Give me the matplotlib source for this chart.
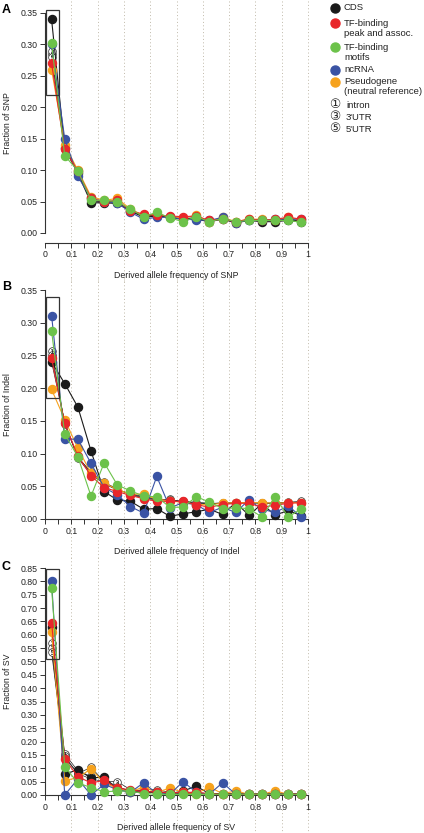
import numpy as np
import matplotlib
matplotlib.use("Agg")
import matplotlib.pyplot as plt
from matplotlib.lines import Line2D
from matplotlib.patches import Rectangle
from matplotlib.transforms import blended_transform_factory

plt.rcParams['font.family'] = ['Liberation Sans', 'DejaVu Sans']

FREQ = [0.025, 0.075, 0.125, 0.175, 0.225, 0.275, 0.325, 0.375, 0.425, 0.475,
        0.525, 0.575, 0.625, 0.675, 0.725, 0.775, 0.825, 0.875, 0.925, 0.975]

CATEGORIES = ["CDS", "TF-binding\npeak and assoc.", "TF-binding\nmotifs", "ncRNA",
              "Pseudogene\n(neutral reference)"]
COLORS = ["#1a1a1a", "#e8262a", "#6cc24a", "#3a53a4", "#f6a21d"]
CIRCLED = ["intron", "3'UTR", "5'UTR"]
CIRCLED_GLYPHS = ["\u2460", "\u2462", "\u2464"]
CIRCLED_DIGITS = ["1", "3", "5"]

# panel A: SNP
snp_cds = [0.340, 0.135, 0.095, 0.048, 0.048, 0.047, 0.035, 0.025, 0.027, 0.025,
           0.022, 0.022, 0.018, 0.022, 0.016, 0.020, 0.018, 0.018, 0.020, 0.018]
snp_peak = [0.270, 0.133, 0.098, 0.055, 0.050, 0.052, 0.035, 0.030, 0.028, 0.027,
            0.026, 0.027, 0.020, 0.022, 0.018, 0.022, 0.020, 0.022, 0.025, 0.022]
snp_motif = [0.302, 0.123, 0.099, 0.052, 0.052, 0.050, 0.038, 0.026, 0.033, 0.024,
             0.018, 0.026, 0.018, 0.023, 0.018, 0.020, 0.020, 0.020, 0.020, 0.017]
snp_ncrna = [0.300, 0.150, 0.090, 0.055, 0.050, 0.048, 0.033, 0.022, 0.025, 0.025,
             0.022, 0.021, 0.020, 0.025, 0.016, 0.021, 0.020, 0.022, 0.022, 0.022]
snp_pseudo = [0.260, 0.140, 0.100, 0.058, 0.052, 0.055, 0.038, 0.028, 0.030, 0.026,
              0.024, 0.028, 0.018, 0.025, 0.018, 0.022, 0.022, 0.020, 0.025, 0.020]
snp_intron = [0.285, 0.135, 0.096, 0.050, 0.049, 0.049, 0.036, 0.027, 0.028, 0.025,
              0.023, 0.024, 0.019, 0.023, 0.017, 0.021, 0.020, 0.020, 0.022, 0.019]
snp_utr3 = [0.290, 0.136, 0.097, 0.051, 0.050, 0.050, 0.036, 0.027, 0.028, 0.025,
            0.023, 0.024, 0.019, 0.023, 0.017, 0.021, 0.020, 0.020, 0.022, 0.019]
snp_utr5 = [0.280, 0.134, 0.096, 0.052, 0.050, 0.050, 0.036, 0.027, 0.028, 0.025,
            0.023, 0.024, 0.019, 0.023, 0.017, 0.021, 0.020, 0.020, 0.022, 0.019]

# panel B: Indel
indel_cds = [0.240, 0.207, 0.171, 0.104, 0.042, 0.029, 0.027, 0.015, 0.016, 0.004,
             0.008, 0.011, 0.015, 0.007, 0.025, 0.006, 0.023, 0.006, 0.013, 0.005]
indel_peak = [0.246, 0.146, 0.096, 0.066, 0.048, 0.042, 0.036, 0.031, 0.027, 0.027,
              0.027, 0.022, 0.018, 0.022, 0.024, 0.024, 0.018, 0.021, 0.024, 0.025]
indel_motif = [0.287, 0.130, 0.095, 0.035, 0.086, 0.052, 0.043, 0.035, 0.034, 0.018,
               0.018, 0.034, 0.026, 0.016, 0.017, 0.016, 0.003, 0.034, 0.003, 0.016]
indel_ncrna = [0.311, 0.122, 0.122, 0.085, 0.048, 0.037, 0.019, 0.009, 0.065, 0.017,
               0.025, 0.022, 0.010, 0.018, 0.010, 0.029, 0.015, 0.010, 0.020, 0.003]
indel_pseudo = [0.198, 0.152, 0.108, 0.070, 0.055, 0.045, 0.038, 0.038, 0.030, 0.028,
                0.025, 0.022, 0.022, 0.024, 0.025, 0.025, 0.025, 0.024, 0.025, 0.025]
indel_intron = [0.257, 0.145, 0.095, 0.070, 0.055, 0.045, 0.038, 0.033, 0.030, 0.028,
                0.027, 0.025, 0.024, 0.024, 0.025, 0.025, 0.024, 0.024, 0.025, 0.025]
indel_utr3 = [0.240, 0.148, 0.094, 0.072, 0.056, 0.046, 0.037, 0.032, 0.029, 0.030,
              0.026, 0.024, 0.023, 0.025, 0.024, 0.026, 0.025, 0.023, 0.026, 0.026]
indel_utr5 = [0.250, 0.146, 0.093, 0.068, 0.054, 0.044, 0.039, 0.034, 0.031, 0.029,
              0.027, 0.025, 0.024, 0.024, 0.025, 0.025, 0.024, 0.025, 0.025, 0.027]

# panel C: SV
sv_cds = [0.630, 0.079, 0.094, 0.064, 0.067, 0.020, 0.012, 0.010, 0.012, 0.005,
          0.015, 0.033, 0.005, 0.005, 0.003, 0.005, 0.005, 0.003, 0.005, 0.003]
sv_peak = [0.645, 0.135, 0.069, 0.045, 0.055, 0.025, 0.020, 0.012, 0.012, 0.008,
           0.010, 0.010, 0.005, 0.003, 0.003, 0.003, 0.003, 0.003, 0.003, 0.003]
sv_motif = [0.775, 0.106, 0.045, 0.028, 0.012, 0.015, 0.015, 0.005, 0.003, 0.002,
            0.002, 0.002, 0.003, 0.003, 0.003, 0.003, 0.003, 0.003, 0.003, 0.002]
sv_ncrna = [0.800, 0.000, 0.060, 0.000, 0.040, 0.020, 0.010, 0.046, 0.005, 0.003,
            0.050, 0.010, 0.003, 0.046, 0.003, 0.003, 0.003, 0.003, 0.003, 0.003]
sv_pseudo = [0.610, 0.054, 0.065, 0.098, 0.045, 0.025, 0.012, 0.030, 0.010, 0.026,
             0.010, 0.005, 0.030, 0.005, 0.015, 0.003, 0.003, 0.015, 0.003, 0.003]
sv_intron = [0.570, 0.154, 0.090, 0.070, 0.060, 0.030, 0.015, 0.020, 0.020, 0.010,
             0.010, 0.008, 0.005, 0.005, 0.005, 0.004, 0.004, 0.004, 0.004, 0.004]
sv_utr3 = [0.550, 0.145, 0.080, 0.104, 0.050, 0.050, 0.020, 0.015, 0.010, 0.008,
           0.008, 0.006, 0.005, 0.004, 0.004, 0.004, 0.004, 0.004, 0.004, 0.004]
sv_utr5 = [0.535, 0.140, 0.080, 0.060, 0.050, 0.030, 0.015, 0.010, 0.008, 0.006,
           0.006, 0.005, 0.004, 0.004, 0.004, 0.004, 0.004, 0.004, 0.004, 0.004]

PANELS = [
    ("A", "SNP", [snp_cds, snp_peak, snp_motif, snp_ncrna, snp_pseudo],
     [snp_intron, snp_utr3, snp_utr5], 0.35, (0.22, 0.355)),
    ("B", "Indel", [indel_cds, indel_peak, indel_motif, indel_ncrna, indel_pseudo],
     [indel_intron, indel_utr3, indel_utr5], 0.35, (0.185, 0.34)),
    ("C", "SV", [sv_cds, sv_peak, sv_motif, sv_ncrna, sv_pseudo],
     [sv_intron, sv_utr3, sv_utr5], 0.85, (0.51, 0.845)),
]

W, H = 424, 833
fig = plt.figure(figsize=(W / 100, H / 100), dpi=100)

# pixel boxes (top, bottom) of the plotting area and bottom-spine offsets
boxes = [(13, 233, 7), (290, 519, 0), (568, 795, 0)]
x0, x1 = 45, 308
xlabel_y = [275, 552, 828]
letter_y = [10, 287, 567]

draw_order = [0, 4, 3, 1, 2]
fs = 6.3

for k, (letter, kind, series, circ, ymax, box_y) in enumerate(PANELS):
    top, bot, off = boxes[k]
    ax = fig.add_axes([x0 / W, 1 - bot / H, (x1 - x0) / W, (bot - top) / H])
    ax.set_xlim(0, 1)
    ax.set_ylim(0, ymax)
    ax.patch.set_alpha(0)
    for s in ["top", "right"]:
        ax.spines[s].set_visible(False)
    ax.spines["bottom"].set_position(("outward", off))
    ax.spines["left"].set_bounds(0, ymax)
    for s in ["left", "bottom"]:
        ax.spines[s].set_linewidth(0.8)
        ax.spines[s].set_color("#333333")

    ax.set_xticks(np.arange(0, 1.001, 0.05))
    ax.set_xticklabels(["0" if i == 0 else ("1" if i == 20 else (f"{i / 20:.1f}" if i % 2 == 0 else ""))
                        for i in range(21)])
    yt = np.arange(0, ymax + 0.001, 0.05)
    ax.set_yticks(yt)
    ax.set_yticklabels([f"{v:.2f}" for v in yt])
    ax.tick_params(length=3.5, width=0.7, labelsize=fs, pad=2, colors="#333333",
                   labelcolor="#222222")

    # dotted vertical guides at 0.1 ... 1.0 spanning the whole panel band
    tr = blended_transform_factory(ax.transData, fig.transFigure)
    band_top = 1 - (top - 13) / H
    band_bot = 1 - (xlabel_y[k] + 6) / H
    for gx in np.arange(0.1, 1.001, 0.1):
        fig.add_artist(Line2D([gx, gx], [band_bot, band_top], transform=tr,
                              color="#bfb8a8", lw=0.7, ls=(0, (1, 2.5)), zorder=0))

    # region categories (circled symbols) sit underneath the coloured series
    for j, vals in enumerate(circ):
        ax.plot(FREQ, vals, "-", color="#222222", lw=0.5, clip_on=False, zorder=2)
        ax.plot(FREQ, vals, "o", mfc="white", mec="#222222", mew=0.5, ms=5.5,
                clip_on=False, zorder=2.5)
        ax.plot(FREQ, vals, ls="none", marker=f"${CIRCLED_DIGITS[j]}$", color="#222222",
                ms=3, mew=0.2, clip_on=False, zorder=2.6)

    for i in draw_order:
        ax.plot(FREQ, series[i], "-o", color=COLORS[i], lw=0.8, ms=5.8,
                mec=COLORS[i], clip_on=False, zorder=3 + draw_order.index(i))

    ax.add_patch(Rectangle((0.004, box_y[0]), 0.049, box_y[1] - box_y[0], fill=False,
                           ec="#333333", lw=0.9, clip_on=False, zorder=10))

    ax.set_ylabel(f"Fraction of {kind}", fontsize=fs, labelpad=6, color="#222222")
    fig.text((x0 + x1) / 2 / W, 1 - xlabel_y[k] / H, f"Derived allele frequency of {kind}",
             ha="center", va="center", fontsize=fs, color="#222222")
    fig.text(2 / W, 1 - letter_y[k] / H, letter, ha="left", va="center",
             fontsize=9, fontweight="bold")

# legend drawn by hand at the top right
lx, tx = 335 / W, 344 / W
legend_rows = [(8, [8]), (23, [23, 33]), (47, [47, 57]), (70, [70]), (82, [82, 92])]
for i, (my, lines) in enumerate(legend_rows):
    fig.add_artist(Line2D([lx], [1 - my / H], marker="o", ms=6.5, color=COLORS[i],
                          mec=COLORS[i], transform=fig.transFigure))
    for ln, ly in zip(CATEGORIES[i].split("\n"), lines):
        fig.text(tx, 1 - ly / H, ln, ha="left", va="center", fontsize=6.8, color="#222222")
for j, ly in enumerate([105, 117, 129]):
    fig.text(lx, 1 - ly / H, CIRCLED_GLYPHS[j], ha="center", va="center", fontsize=9,
             family=["DejaVu Sans"], color="#222222")
    fig.text(tx + 2 / W, 1 - ly / H, CIRCLED[j], ha="left", va="center", fontsize=6.8,
             color="#222222")

fig.savefig("out.png", dpi=100)
